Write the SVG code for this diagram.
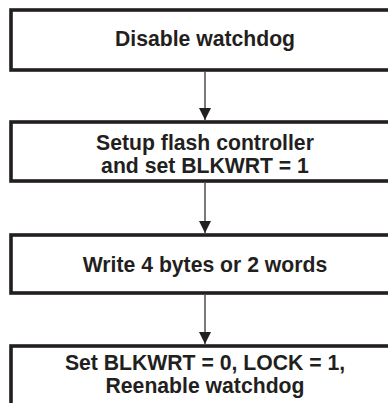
<svg xmlns="http://www.w3.org/2000/svg" width="388" height="403" viewBox="0 0 388 403">
<style>
.box{fill:#fff;stroke:#231f20;stroke-width:3.6}
.t{font-family:"Liberation Sans",Arial,sans-serif;font-weight:bold;font-size:21.2px;fill:#231f20;text-anchor:middle}
.c{stroke:#231f20;stroke-width:1.2;fill:none}
</style>
<defs>
<marker id="ah" markerWidth="12" markerHeight="12" viewBox="0 0 12 12" refX="12" refY="6" orient="auto" markerUnits="userSpaceOnUse">
<path d="M0,0 L12,6 L0,12 Z" fill="#231f20"/>
</marker>
</defs>
<rect width="388" height="403" fill="#fff"/>
<g id="connectors">
<line class="c" x1="205" y1="72" x2="205" y2="120" marker-end="url(#ah)"/>
<line class="c" x1="205" y1="183" x2="205" y2="233" marker-end="url(#ah)"/>
<line class="c" x1="205" y1="295" x2="205" y2="344" marker-end="url(#ah)"/>
</g>
<g id="n1">
<rect class="box" x="11" y="10" width="390" height="60"/>
<text class="t" x="205" y="46">Disable watchdog</text>
</g>
<g id="n2">
<rect class="box" x="11" y="122" width="390" height="59"/>
<text class="t" x="205" y="149.5">Setup flash controller</text>
<text class="t" x="205" y="172.5">and set BLKWRT = 1</text>
</g>
<g id="n3">
<rect class="box" x="11" y="235" width="390" height="58"/>
<text class="t" x="205" y="272">Write 4 bytes or 2 words</text>
</g>
<g id="n4">
<rect class="box" x="11" y="346" width="390" height="70"/>
<text class="t" x="205" y="369.5">Set BLKWRT = 0, LOCK = 1,</text>
<text class="t" x="205" y="393">Reenable watchdog</text>
</g>
</svg>
